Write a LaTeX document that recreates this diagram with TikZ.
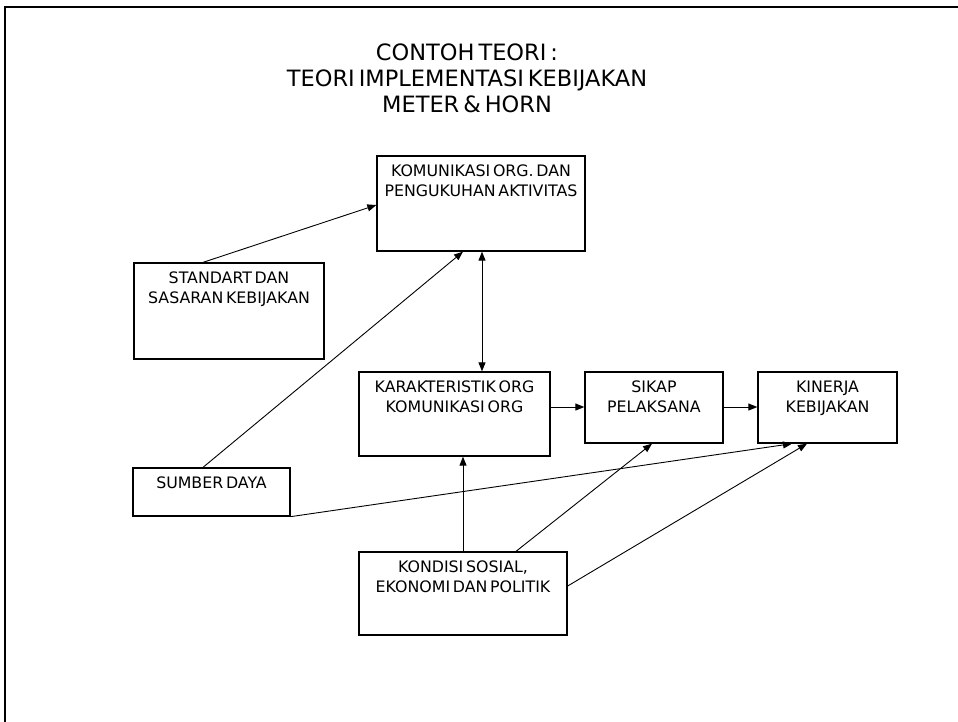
\documentclass[tikz,border=0pt]{standalone}
\usepackage{fontspec}
\setmainfont{DejaVu Sans}[WordSpace=0.55]
\usetikzlibrary{arrows.meta,calc}
\begin{document}
\begin{tikzpicture}[x=1pt,y=-1pt,
  box/.style={draw,line width=1.3pt,rectangle,inner sep=0pt},
  lbl/.style={anchor=north,inner sep=0pt,align=center,font=\fontsize{15.8}{20}\selectfont},
  ttl/.style={anchor=base,inner sep=0pt,font=\fontsize{22.5}{26}\selectfont},
  conn/.style={line width=0.9pt,-{Triangle[length=9pt,width=7pt]}},
  dconn/.style={line width=0.9pt,{Triangle[length=9pt,width=7pt]}-{Triangle[length=9pt,width=7pt]}}]
\useasboundingbox (0,0) rectangle (958,721);
\draw[line width=2pt] (5,725) -- (5,7) -- (962,7);
\node[ttl] (title1) at (467,60) {CONTOH TEORI :};
\node[ttl] (title2) at (467,86) {TEORI IMPLEMENTASI KEBIJAKAN};
\node[ttl] (title3) at (467,112) {METER \& HORN};
% boxes
\node[box,minimum width=208pt,minimum height=95pt] (kom) at (481,203.5) {};
\node[box,minimum width=190pt,minimum height=96pt] (std) at (229,311) {};
\node[box,minimum width=191pt,minimum height=84pt] (kar) at (454.5,414) {};
\node[box,minimum width=138pt,minimum height=71pt] (sik) at (654,407.5) {};
\node[box,minimum width=139pt,minimum height=71pt] (kin) at (827.5,407.5) {};
\node[box,minimum width=157pt,minimum height=48pt] (sum) at (211.5,492) {};
\node[box,minimum width=208pt,minimum height=83pt] (kon) at (463,593.5) {};
% labels
\node[lbl] (komt) at ($(kom.north)+(0,9)$) {KOMUNIKASI ORG. DAN\\PENGUKUHAN AKTIVITAS};
\node[lbl] (stdt) at ($(std.north)+(0,9)$) {STANDART DAN\\SASARAN KEBIJAKAN};
\node[lbl] (kart) at ($(kar.north)+(0,9)$) {KARAKTERISTIK ORG\\KOMUNIKASI ORG};
\node[lbl] (sikt) at ($(sik.north)+(0,9)$) {SIKAP\\PELAKSANA};
\node[lbl] (kint) at ($(kin.north)+(0,9)$) {KINERJA\\KEBIJAKAN};
\node[lbl] (sumt) at ($(sum.north)+(0,9)$) {SUMBER DAYA};
\node[lbl] (kont) at ($(kon.north)+(0,9)$) {KONDISI SOSIAL,\\EKONOMI DAN POLITIK};
% connectors
\draw[conn] (203,0 |- std.north) -- (kom.west |- 0,205);
\draw[conn] (203,0 |- sum.north) -- (463,0 |- kom.south);
\draw[dconn] (482,0 |- kom.south) -- (482,0 |- kar.north);
\draw[conn] (kar.east |- 0,407) -- (sik.west |- 0,407);
\draw[conn] (sik.east |- 0,407) -- (kin.west |- 0,407);
\draw[conn] (sum.south east) -- (792,0 |- kin.south);
\draw[conn] (463,0 |- kon.north) -- (463,0 |- kar.south);
\draw[conn] (516,0 |- kon.north) -- (652,0 |- sik.south);
\draw[conn] (kon.east |- 0,586) -- (807,0 |- kin.south);
\end{tikzpicture}
\end{document}
